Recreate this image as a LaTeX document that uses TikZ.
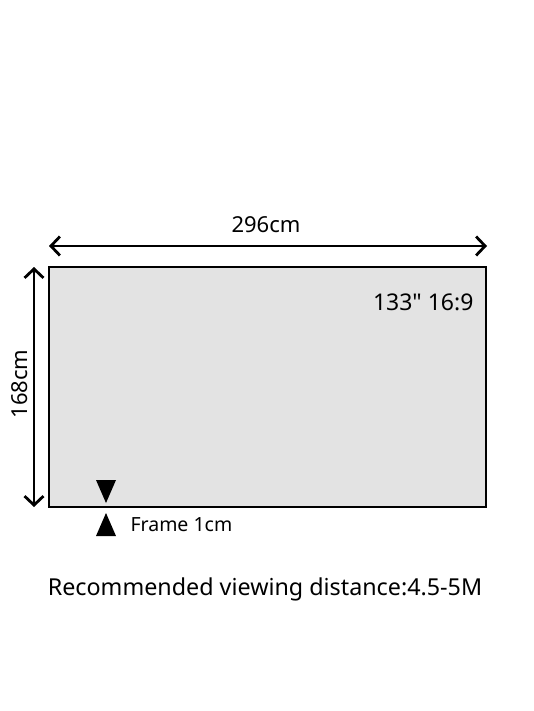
\documentclass[tikz,border=0pt]{standalone}
\usepackage{fontspec}
\setmainfont{Noto Sans}[Ligatures=TeXOff]
\usetikzlibrary{arrows.meta}

\tikzset{
    dimarrow/.style={line width=2.8pt, {Straight Barb[length=9pt, width=19pt, line width=2.8pt]}-{Straight Barb[length=9pt, width=19pt, line width=2.8pt]}},
    marker/.style={fill=black}
}

\begin{document}
\begin{tikzpicture}[x=1pt, y=-1pt]
        \useasboundingbox (0, 0) rectangle (533, 711);
        % screen
        \filldraw[fill={rgb,255:red,227;green,227;blue,227}, line width=1.8pt]
        (49, 267) rectangle (486, 507);
        \node[anchor=east, font=\fontsize{23}{27}\selectfont] (ratio) at (477, 302) {133" 16:9};
        % width
        \coordinate (wl) at (49, 246);
        \coordinate (wr) at (487, 246);
        \draw[dimarrow] (wl) -- (wr);
        \node[font=\fontsize{22}{26}\selectfont] (width) at (266, 225) {296cm};
        % height
        \coordinate (ht) at (34, 267);
        \coordinate (hb) at (34, 507);
        \draw[dimarrow] (ht) -- (hb);
        \node[rotate=90, font=\fontsize{22}{26}\selectfont] (height) at (20, 384) {168cm};
        % frame
        \fill[marker] (96, 480) -- (116, 480) -- (106, 503) -- cycle;
        \fill[marker] (96, 536) -- (116, 536) -- (106, 513) -- cycle;
        \node[anchor=west, font=\fontsize{19.5}{23}\selectfont] (frame) at (127, 525) {Frame 1cm};
        % distance
        \node[font=\fontsize{23.3}{28}\selectfont] (dist) at (265, 589) {Recommended viewing distance:4.5-5M};
    \end{tikzpicture}
\end{document}
